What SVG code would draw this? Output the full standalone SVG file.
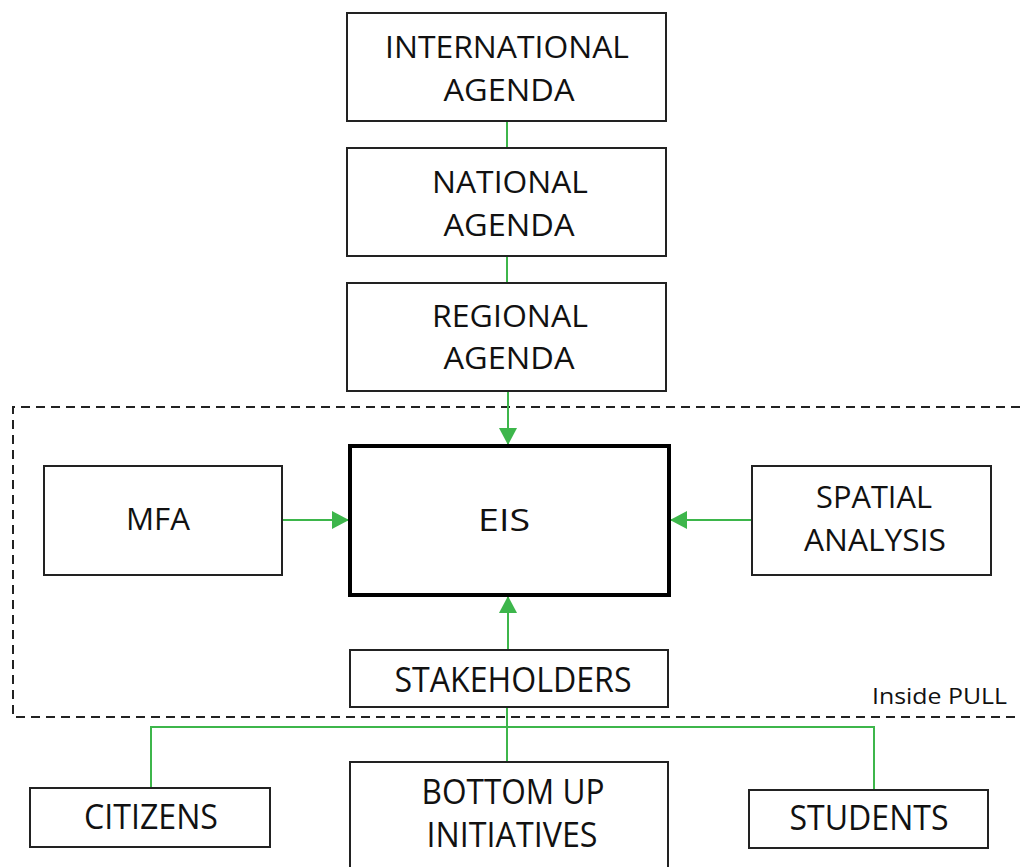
<svg xmlns="http://www.w3.org/2000/svg" width="1020" height="867" viewBox="0 0 1020 867">
<style>
.box{fill:#fff;stroke:#222;stroke-width:2}
.main{fill:#fff;stroke:#000;stroke-width:4}
.t{font-family:"Open Sans","Liberation Sans",sans-serif;font-size:31px;fill:#111;text-anchor:middle}
.c{font-family:"Open Sans","Liberation Sans",sans-serif;font-size:34px;fill:#111;text-anchor:middle}
.lbl{font-family:"Open Sans","Liberation Sans",sans-serif;font-size:22px;fill:#111}
.g{fill:none;stroke:#3db64b;stroke-width:2}
.dash{fill:none;stroke:#222;stroke-width:2;stroke-dasharray:9 6}
</style>
<defs>
<marker id="ah" markerWidth="18" markerHeight="18" refX="17" refY="9" orient="auto" markerUnits="userSpaceOnUse">
<path d="M0,0 L17,9 L0,18 Z" fill="#3db64b"/>
</marker>
</defs>
<rect width="1020" height="867" fill="#fff"/>
<g id="pull-boundary">
<path class="dash" d="M1020,407 H13 V717 H1020"/>
<text class="lbl" x="872" y="704" textLength="135" lengthAdjust="spacingAndGlyphs">Inside PULL</text>
</g>
<g id="connectors">
<line class="g" x1="508" y1="391" x2="508" y2="445" marker-end="url(#ah)"/>
<line class="g" x1="507" y1="121" x2="507" y2="148"/>
<line class="g" x1="507" y1="256" x2="507" y2="283"/>
<line class="g" x1="282" y1="520" x2="349" y2="520" marker-end="url(#ah)"/>
<line class="g" x1="752" y1="520" x2="670" y2="520" marker-end="url(#ah)"/>
<line class="g" x1="508" y1="650" x2="508" y2="596" marker-end="url(#ah)"/>
<path class="g" d="M507,707 V762 M151,788 V727 H874 V790"/>
</g>
<g id="international">
<rect class="box" x="347" y="13" width="319" height="108"/>
<text class="t" x="507" y="58" textLength="244" lengthAdjust="spacingAndGlyphs">INTERNATIONAL</text>
<text class="t" x="509" y="101" textLength="131" lengthAdjust="spacingAndGlyphs">AGENDA</text>
</g>
<g id="national">
<rect class="box" x="347" y="148" width="319" height="108"/>
<text class="t" x="510" y="193" textLength="156" lengthAdjust="spacingAndGlyphs">NATIONAL</text>
<text class="t" x="509" y="236" textLength="131" lengthAdjust="spacingAndGlyphs">AGENDA</text>
</g>
<g id="regional">
<rect class="box" x="347" y="283" width="319" height="108"/>
<text class="t" x="510" y="327" textLength="156" lengthAdjust="spacingAndGlyphs">REGIONAL</text>
<text class="t" x="509" y="369" textLength="131" lengthAdjust="spacingAndGlyphs">AGENDA</text>
</g>
<g id="eis">
<rect class="main" x="350" y="446" width="319" height="149"/>
<text class="t" x="504" y="531" textLength="52" lengthAdjust="spacingAndGlyphs">EIS</text>
</g>
<g id="mfa">
<rect class="box" x="44" y="466" width="238" height="109"/>
<text class="t" x="158" y="530" textLength="64" lengthAdjust="spacingAndGlyphs">MFA</text>
</g>
<g id="spatial">
<rect class="box" x="752" y="466" width="239" height="109"/>
<text class="t" x="874" y="508" textLength="116" lengthAdjust="spacingAndGlyphs">SPATIAL</text>
<text class="t" x="875" y="551" textLength="142" lengthAdjust="spacingAndGlyphs">ANALYSIS</text>
</g>
<g id="stakeholders">
<rect class="box" x="350" y="650" width="318" height="57"/>
<text class="c" x="513" y="692" textLength="237" lengthAdjust="spacingAndGlyphs">STAKEHOLDERS</text>
</g>
<g id="citizens">
<rect class="box" x="30" y="788" width="240" height="59"/>
<text class="c" x="151" y="829" textLength="134" lengthAdjust="spacingAndGlyphs">CITIZENS</text>
</g>
<g id="bottom-up">
<rect class="box" x="350" y="762" width="318" height="110"/>
<text class="c" x="513" y="804" textLength="183" lengthAdjust="spacingAndGlyphs">BOTTOM UP</text>
<text class="c" x="512" y="847" textLength="171" lengthAdjust="spacingAndGlyphs">INITIATIVES</text>
</g>
<g id="students">
<rect class="box" x="749" y="790" width="239" height="58"/>
<text class="c" x="869" y="830" textLength="159" lengthAdjust="spacingAndGlyphs">STUDENTS</text>
</g>
</svg>
